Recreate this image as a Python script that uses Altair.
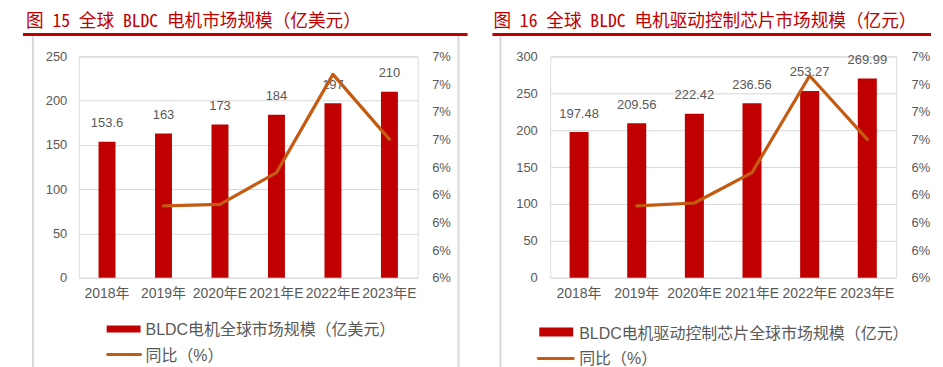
import altair as alt
import pandas as pd

years = ["2018年", "2019年", "2020年E", "2021年E", "2022年E", "2023年E"]
motor_market = [153.6, 163, 173, 184, 197, 210]
motor_yoy = [None, 0.0612, 0.0613, 0.0636, 0.0707, 0.0660]
chip_market = [197.48, 209.56, 222.42, 236.56, 253.27, 269.99]
chip_yoy = [None, 0.0612, 0.0614, 0.0636, 0.0706, 0.0660]
motor_ticks = [0, 50, 100, 150, 200, 250]
chip_ticks = [0, 50, 100, 150, 200, 250, 300]
yoy_ticks = [0.056, 0.058, 0.060, 0.062, 0.064, 0.066, 0.068, 0.070, 0.072]
titles = ["图 15 全球 BLDC 电机市场规模（亿美元）", "图 16 全球 BLDC 电机驱动控制芯片市场规模（亿元）"]
bar_names = ["BLDC电机全球市场规模（亿美元）", "BLDC电机驱动控制芯片全球市场规模（亿元）"]
line_name = "同比（%）"

RED = "#c00000"
ORANGE = "#c55a11"
GRAY = "#595959"
GRID = "#d9d9d9"
FONT = "Liberation Sans, Noto Sans CJK SC"
TITLE_FONT = "Noto Sans Mono CJK SC, Noto Sans CJK SC"


def panel(values, yoy, ticks, ymax, width, bar_frac, title, bar_name, g):
    df = pd.DataFrame({"year": years, "value": values, "yoy": yoy})
    base = alt.Chart(df)
    xenc = alt.X("year:N", sort=None,
                 scale=alt.Scale(paddingInner=1 - bar_frac, paddingOuter=(1 - bar_frac) / 2),
                 axis=alt.Axis(title=None, labelAngle=0, labelFontSize=14, labelColor=GRAY,
                               labelPadding=9, ticks=False, domain=False, grid=False,
                               labelFont=FONT))
    yscale = alt.Scale(domain=[0, ymax], nice=False, zero=True)
    bars = base.mark_bar(color=RED).encode(
        x=xenc,
        y=alt.Y("value:Q", scale=yscale,
                axis=alt.Axis(title=None, values=ticks, grid=True, gridColor=GRID, gridWidth=1,
                              ticks=False, domain=False, labelColor=GRAY, labelFontSize=13,
                              labelPadding=g["lpad"], labelFont=FONT)))
    labels = base.mark_text(dy=-18.5, fontSize=13, color=GRAY, font=FONT).encode(
        x=xenc,
        y=alt.Y("value:Q", scale=yscale, axis=None),
        text=alt.Text("value:Q"))
    line = base.mark_line(color=ORANGE, strokeWidth=3.2, strokeCap="round", strokeJoin="round").encode(
        x=xenc,
        y=alt.Y("yoy:Q", scale=alt.Scale(domain=[yoy_ticks[0], yoy_ticks[-1]], nice=False, zero=False),
                axis=alt.Axis(title=None, orient="right", values=yoy_ticks, format=".0%", grid=False,
                              ticks=False, domain=False, labelColor=GRAY, labelFontSize=13,
                              labelPadding=g["rpad"], labelFont=FONT)))

    one_row = pd.DataFrame({"k": [0]})
    d = alt.Chart(one_row)
    deco = [
        d.mark_rule(color="white", strokeWidth=0.5).encode(
            x=alt.value(g["ax1"]), x2=alt.value(g["ax2"]), y=alt.value(-47), y2=alt.value(-47)),
        d.mark_text(align="left", baseline="middle", fontSize=17.7, color=RED,
                    font=TITLE_FONT).encode(
            x=alt.value(g["tx"]), y=alt.value(-35), text=alt.value(title)),
        d.mark_rule(color=RED, strokeWidth=3).encode(
            x=alt.value(g["ux1"]), x2=alt.value(g["ux2"]), y=alt.value(-22), y2=alt.value(-22)),
        d.mark_rect(color=RED).encode(
            x=alt.value(g["sx1"]), x2=alt.value(g["sx2"]), y=alt.value(g["sy1"]), y2=alt.value(g["sy2"])),
        d.mark_text(align="left", baseline="middle", fontSize=16, color=GRAY, font=FONT).encode(
            x=alt.value(g["ltx"]), y=alt.value(g["lty1"]), text=alt.value(bar_name)),
        d.mark_rule(color=ORANGE, strokeWidth=3, strokeCap="round").encode(
            x=alt.value(g["lx1"]), x2=alt.value(g["lx2"]), y=alt.value(g["ly"]), y2=alt.value(g["ly"])),
        d.mark_text(align="left", baseline="middle", fontSize=16, color=GRAY, font=FONT).encode(
            x=alt.value(g["ltx"]), y=alt.value(g["lty2"]), text=alt.value(line_name)),
    ]
    for fx in g["frames"]:
        deco.append(d.mark_rule(color=GRID, strokeWidth=2).encode(
            x=alt.value(fx), x2=alt.value(fx), y=alt.value(-20), y2=alt.value(312)))

    return alt.layer(bars, labels, line, *deco).resolve_scale(y="independent").properties(
        width=width, height=222)


g1 = dict(lpad=12, rpad=14, ax1=-70, ax2=393, tx=-53, ux1=-56, ux2=390,
          sx1=28, sx2=62, sy1=270, sy2=277, ltx=67, lty1=274,
          lx1=29, lx2=62, ly=299, lty2=301, frames=[-46, 381])
g2 = dict(lpad=13, rpad=15, ax1=-78, ax2=385, tx=-57, ux1=-58, ux2=382,
          sx1=-11, sx2=23, sy1=272, sy2=281, ltx=29, lty1=278,
          lx1=-12, lx2=23, ly=303, lty2=304, frames=[-50])

p1 = panel(motor_market, motor_yoy, motor_ticks, 250, 340, 0.30, titles[0], bar_names[0], g1)
p2 = panel(chip_market, chip_yoy, chip_ticks, 300, 347, 0.33, titles[1], bar_names[1], g2)

chart = alt.hconcat(p1, p2, spacing=0).properties(padding=0).configure_view(strokeWidth=0).configure(font=FONT)

chart.save("out.html", embed_options={"renderer": "svg", "actions": False})
